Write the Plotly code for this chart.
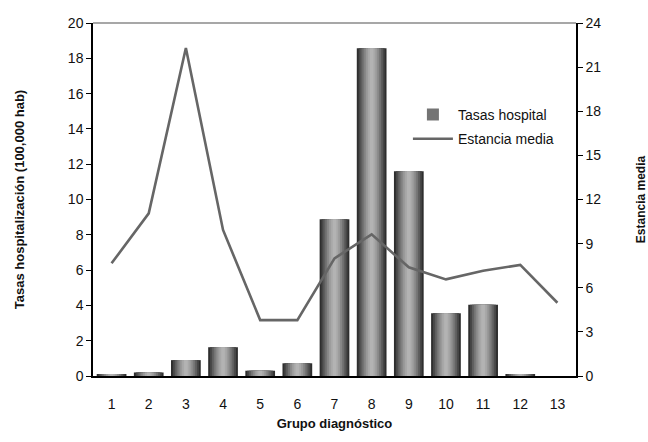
import plotly.graph_objects as go

grupos = [str(i) for i in range(1, 14)]
tasas_hospital = [0.1, 0.2, 0.9, 1.63, 0.3, 0.72, 8.88, 18.57, 11.6, 3.55, 4.04, 0.1, 0.0]
estancia_media = [7.66, 11.06, 22.3, 9.93, 3.8, 3.8, 8.0, 9.63, 7.39, 6.57, 7.16, 7.55, 4.98]

# cylinder shading layers (width, colour), outermost first
layers = [(0.80, "#2e2e2e"), (0.70, "#474747"), (0.60, "#5e5e5e"), (0.50, "#747474"),
          (0.40, "#888888"), (0.30, "#9a9a9a"), (0.20, "#a8a8a8"), (0.10, "#b3b3b3")]

fig = go.Figure()
for i, (w, c) in enumerate(layers):
    fig.add_trace(go.Bar(
        x=grupos, y=tasas_hospital, width=w, marker=dict(color=c, line=dict(width=0)),
        name="Tasas hospital", showlegend=(i == 3), legendrank=1, legendgroup="bars",
        yaxis="y", hoverinfo="skip" if i else None))

fig.add_trace(go.Scatter(
    x=grupos, y=estancia_media, mode="lines", name="Estancia media", legendgroup="line",
    line=dict(color="#666666", width=2.6), yaxis="y2", legendrank=2))

font = "Liberation Sans, Arial, sans-serif"
fig.update_layout(
    width=648, height=442,
    margin=dict(l=93, r=72, t=23, b=66, autoexpand=False),
    plot_bgcolor="white", paper_bgcolor="white",
    barmode="overlay",
    font=dict(family=font, size=14, color="#111111"),
    showlegend=True,
    legend=dict(x=0.652, y=0.785, xanchor="left", yanchor="top", bgcolor="rgba(0,0,0,0)",
                font=dict(size=14), tracegroupgap=3, itemwidth=40),
    xaxis=dict(showline=True, linecolor="#000000", linewidth=1.5, ticks="outside",
               ticklen=14, tickcolor="rgba(0,0,0,0)", showgrid=False, automargin=False,
               title=dict(text="<b>Grupo diagnóstico</b>", font=dict(size=13), standoff=8)),
    yaxis=dict(range=[0, 20], dtick=2, showline=True, linecolor="#000000", linewidth=1.5,
               ticks="outside", ticklen=5, tickcolor="#000000", showgrid=False, zeroline=False,
               automargin=False,
               title=dict(text="<b>Tasas hospitalización (100,000 hab)</b>", font=dict(size=13), standoff=40)),
    yaxis2=dict(range=[0, 24], dtick=3, overlaying="y", side="right", showline=True,
                linecolor="#000000", linewidth=1.5, ticks="outside", ticklen=5,
                tickcolor="#000000", showgrid=False, zeroline=False, automargin=False,
                title=dict(text="<b>Estancia media</b>", font=dict(size=12), standoff=41)),
    shapes=[dict(type="line", xref="paper", yref="paper", x0=0, x1=1, y0=1, y1=1,
                 line=dict(color="#8a8a8a", width=1.5))],
)

fig.write_html("out.html")
